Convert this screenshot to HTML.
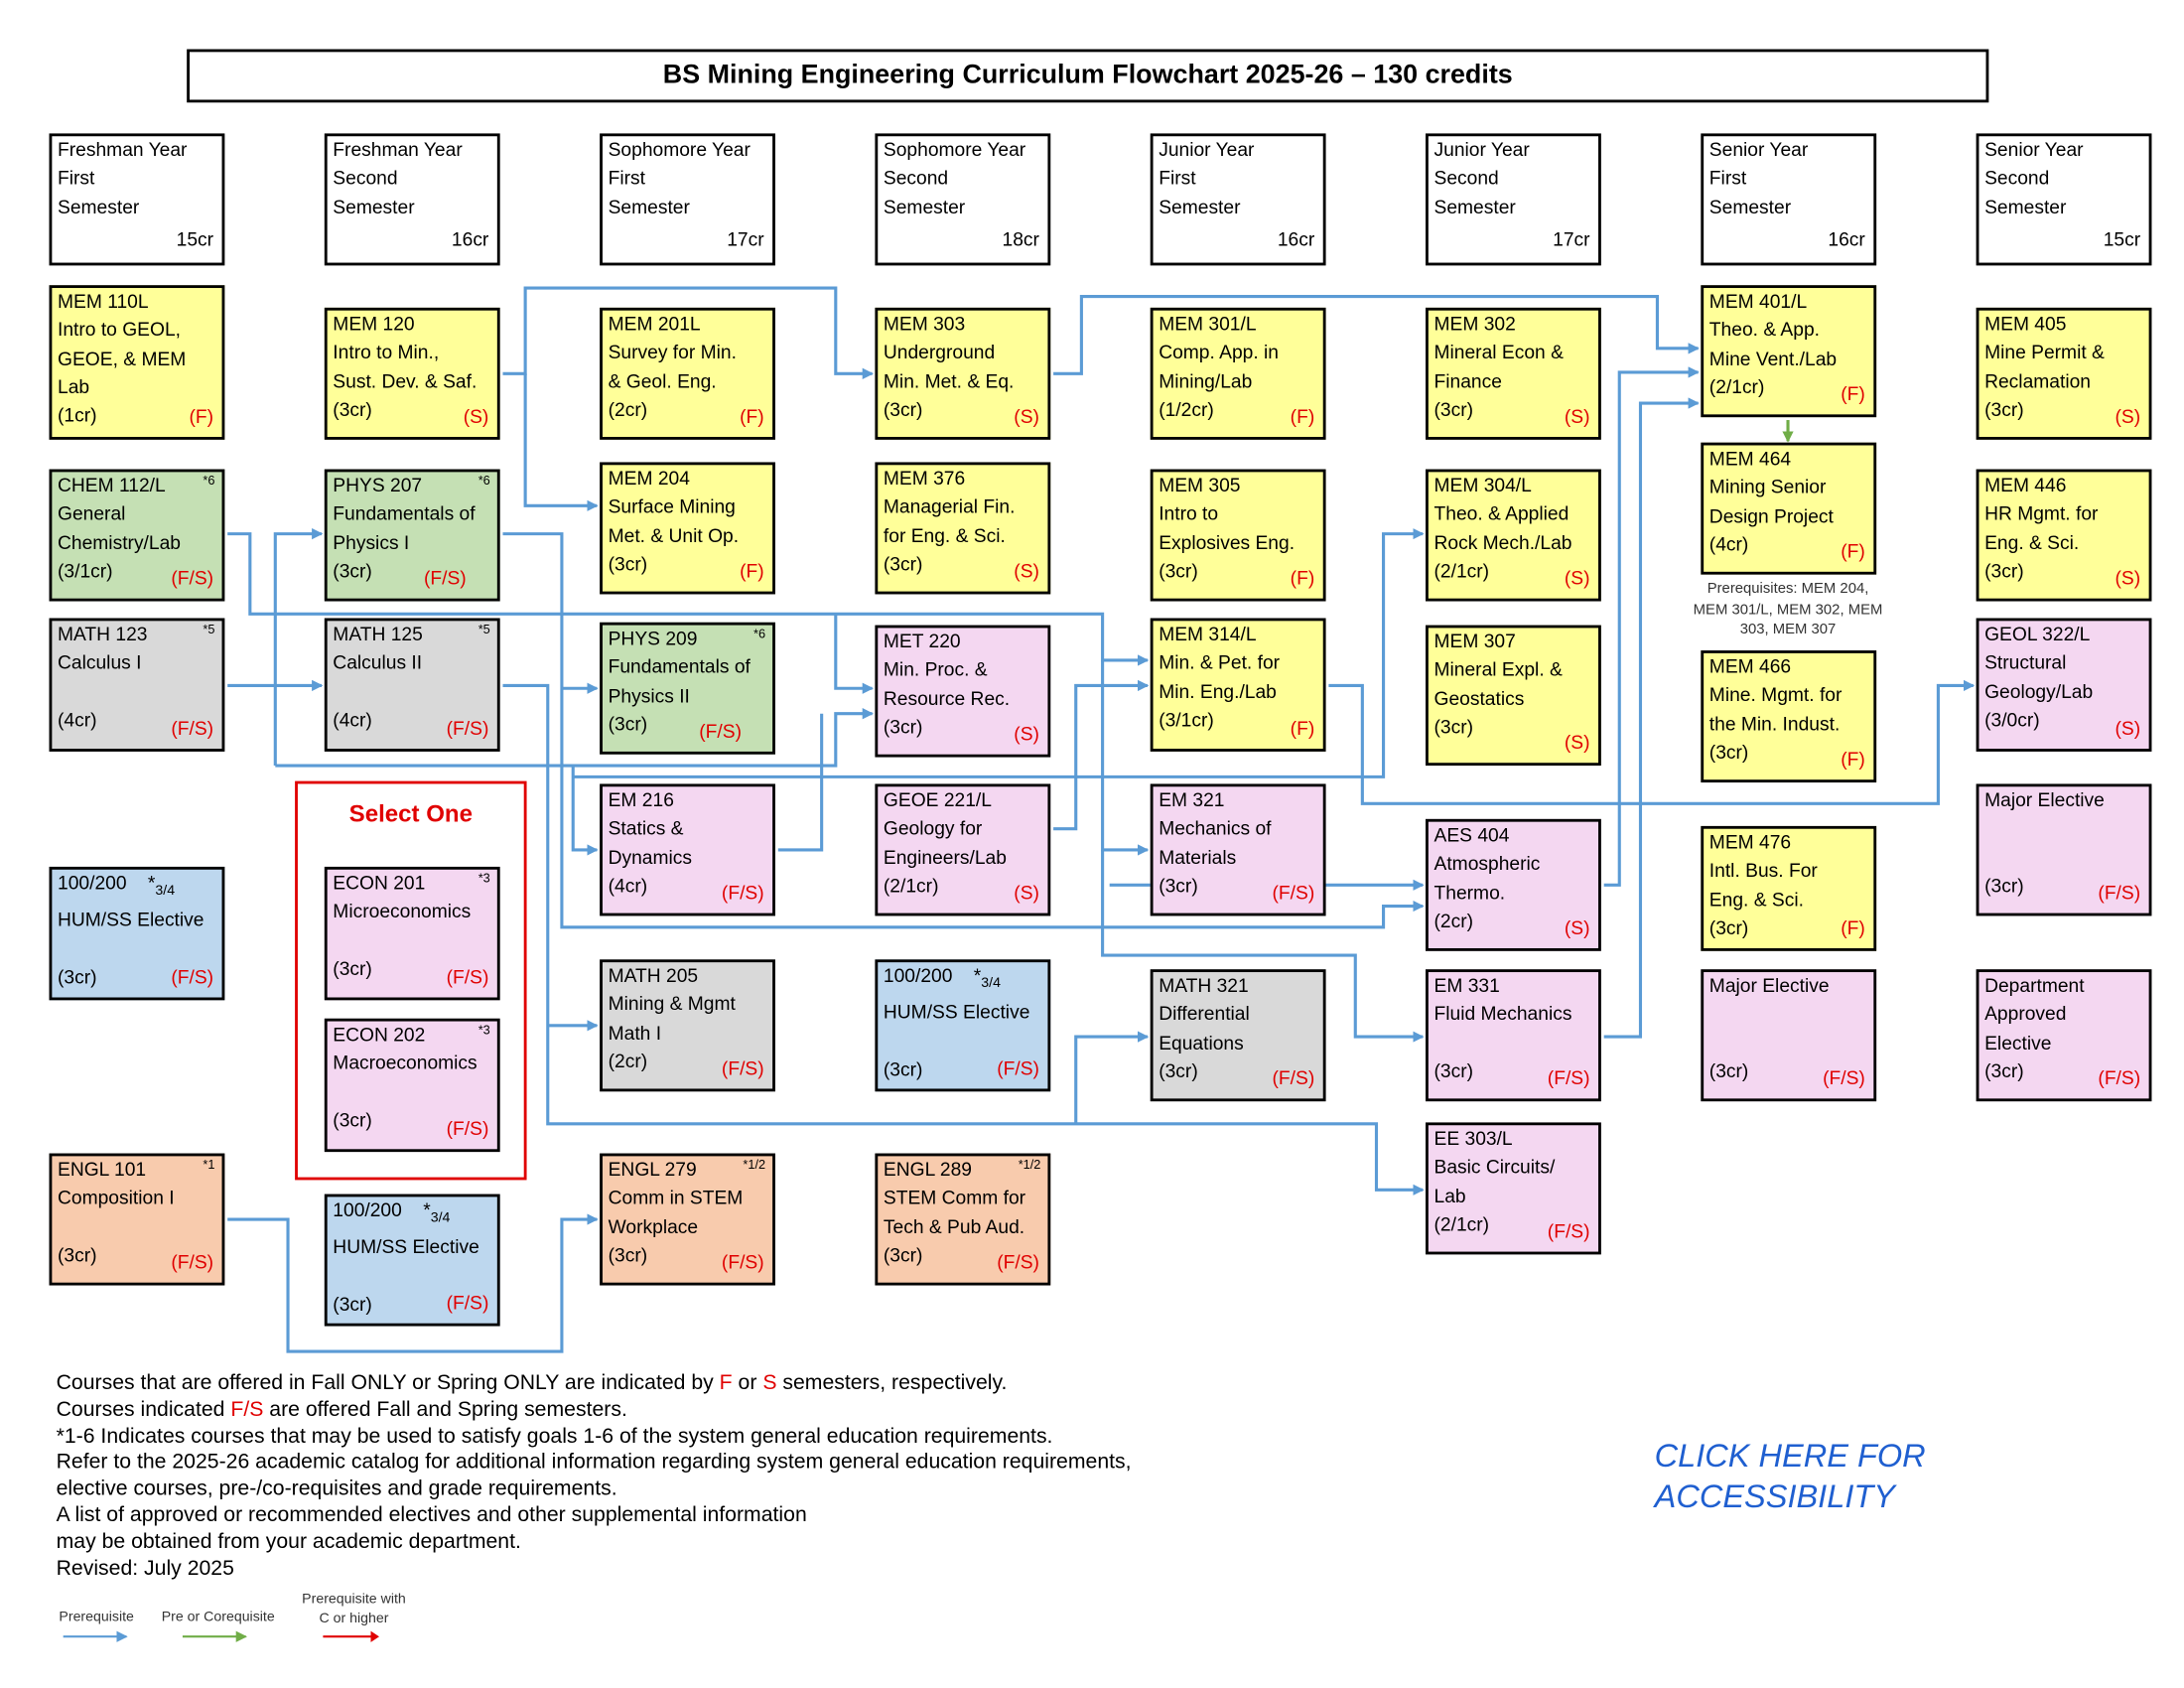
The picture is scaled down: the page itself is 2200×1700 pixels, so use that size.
<!DOCTYPE html>
<html><head><meta charset="utf-8"><style>
html,body{margin:0;padding:0;background:#fff;}
#wrap{width:2200px;height:1700px;overflow:hidden;position:relative;}
#c{position:absolute;left:0;top:0;width:1555px;height:1202px;transform:scale(1.41479);transform-origin:0 0;font-family:"Liberation Sans",sans-serif;}
.b{position:absolute;width:117px;border:2px solid #000;box-sizing:content-box;font-size:13.6px;line-height:20.3px;padding:0 0 0 4px;white-space:nowrap;}
.b .r{position:absolute;right:6px;bottom:4px;color:#e00000;}
.b .s{position:absolute;right:5px;top:1px;font-size:9px;line-height:10px;}
.y{background:#ffff99}.g{background:#c5e0b4}.gr{background:#d9d9d9}.bl{background:#bdd7ee}.p{background:#f4d7f1}.o{background:#f8cbad}
.h{background:#fff}
.h .cr{position:absolute;right:6px;bottom:6px;}
#title{position:absolute;left:133px;top:35px;width:1279px;height:34px;border:2px solid #000;text-align:center;font-weight:bold;font-size:19px;line-height:34px;}
#foot{position:absolute;left:40px;top:976px;font-size:15px;line-height:18.8px;}
.red{color:#e00000}
</style></head><body><div id="wrap"><div id="c">
<div id="title">BS Mining Engineering Curriculum Flowchart 2025-26 – 130 credits</div>

<div class="b h" style="left:35px;top:95px;height:90px;">Freshman Year<br>First<br>Semester<span class="cr">15cr</span></div>
<div class="b h" style="left:231px;top:95px;height:90px;">Freshman Year<br>Second<br>Semester<span class="cr">16cr</span></div>
<div class="b h" style="left:427px;top:95px;height:90px;">Sophomore Year<br>First<br>Semester<span class="cr">17cr</span></div>
<div class="b h" style="left:623px;top:95px;height:90px;">Sophomore Year<br>Second<br>Semester<span class="cr">18cr</span></div>
<div class="b h" style="left:819px;top:95px;height:90px;">Junior Year<br>First<br>Semester<span class="cr">16cr</span></div>
<div class="b h" style="left:1015px;top:95px;height:90px;">Junior Year<br>Second<br>Semester<span class="cr">17cr</span></div>
<div class="b h" style="left:1211px;top:95px;height:90px;">Senior Year<br>First<br>Semester<span class="cr">16cr</span></div>
<div class="b h" style="left:1407px;top:95px;height:90px;">Senior Year<br>Second<br>Semester<span class="cr">15cr</span></div>

<svg style="position:absolute;left:0;top:0" width="1555" height="1202">
<defs><marker id="a" markerWidth="8" markerHeight="8" refX="7" refY="4" orient="auto" markerUnits="userSpaceOnUse" viewBox="0 0 8 8"><path d="M0,0L8,4L0,8z" fill="#5b9bd5"/></marker>
<marker id="ag" markerWidth="8" markerHeight="8" refX="7" refY="4" orient="auto" markerUnits="userSpaceOnUse" viewBox="0 0 8 8"><path d="M0,0L8,4L0,8z" fill="#70ad47"/></marker></defs>
<g fill="none" stroke="#5b9bd5" stroke-width="2.2">
<path d="M358,266H374V205H595V266H621" marker-end="url(#a)"/>
<path d="M374,266V360H425" marker-end="url(#a)"/>
<path d="M750,266H770V211H1180V248H1209" marker-end="url(#a)"/>
<path d="M162,380H178V437H785V470H817" marker-end="url(#a)"/>
<path d="M595,437V490H621" marker-end="url(#a)"/>
<path d="M162,488H229" marker-end="url(#a)"/>
<path d="M196,545V380H229" marker-end="url(#a)"/>
<path d="M196,545H595V508H621" marker-end="url(#a)"/>
<path d="M358,380H400V660H985V645H1013" marker-end="url(#a)"/>
<path d="M400,490H425" marker-end="url(#a)"/>
<path d="M358,488H390V800H980V847H1013" marker-end="url(#a)"/>
<path d="M390,730H425" marker-end="url(#a)"/>
<path d="M766,800V738H817" marker-end="url(#a)"/>
<path d="M408,545V605H425" marker-end="url(#a)"/>
<path d="M554,605H585V508" />
<path d="M750,590H766V488H817" marker-end="url(#a)"/>
<path d="M785,470V605H817" marker-end="url(#a)"/>
<path d="M785,605V680H965V738H1013" marker-end="url(#a)"/>
<path d="M790,630H1013" marker-end="url(#a)"/>
<path d="M946,488H970V572H1380V488H1405" marker-end="url(#a)"/>
<path d="M408,553H985V380H1013" marker-end="url(#a)"/>
<path d="M1142,630H1153V265H1209" marker-end="url(#a)"/>
<path d="M1142,738H1168V287H1209" marker-end="url(#a)"/>
<path d="M162,868H205V962H400V868H425" marker-end="url(#a)"/>
</g>
<path d="M1273,299V314" stroke="#70ad47" stroke-width="2.2" marker-end="url(#ag)"/>
<g stroke-width="1.5">
<path d="M45,1165H90" stroke="#5b9bd5" marker-end="url(#a)"/>
<path d="M130,1165H175" stroke="#70ad47" marker-end="url(#ag)"/>
<path d="M230,1165H268" stroke="#e00000"/><path d="M264,1161L270,1165L264,1169z" fill="#e00000"/>
</g>
</svg>

<div class="b y" style="left:35px;top:203px;height:106px;">MEM 110L<br>Intro to GEOL,<br>GEOE, &amp; MEM<br>Lab<br>(1cr)<span class="r">(F)</span></div>
<div class="b g" style="left:35px;top:334px;height:90px;">CHEM 112/L<br>General<br>Chemistry/Lab<br>(3/1cr)<span class="r">(F/S)</span><span class="s">*6</span></div>
<div class="b gr" style="left:35px;top:440px;height:91px;">MATH 123<br>Calculus I<br><br>(4cr)<span class="r">(F/S)</span><span class="s">*5</span></div>
<div class="b bl" style="left:35px;top:617px;height:91px;">100/200 &nbsp;&nbsp;&nbsp;*<sub style="font-size:10px">3/4</sub><br>HUM/SS Elective<br><br>(3cr)<span class="r">(F/S)</span></div>
<div class="b o" style="left:35px;top:821px;height:90px;">ENGL 101<br>Composition I<br><br>(3cr)<span class="r">(F/S)</span><span class="s">*1</span></div>

<div class="b y" style="left:231px;top:219px;height:90px;">MEM 120<br>Intro to Min.,<br>Sust. Dev. &amp; Saf.<br>(3cr)<span class="r">(S)</span></div>
<div class="b g" style="left:231px;top:334px;height:90px;">PHYS 207<br>Fundamentals of<br>Physics I<br>(3cr)<span class="r" style="right:22px">(F/S)</span><span class="s">*6</span></div>
<div class="b gr" style="left:231px;top:440px;height:91px;">MATH 125<br>Calculus II<br><br>(4cr)<span class="r">(F/S)</span><span class="s">*5</span></div>
<div style="position:absolute;left:210px;top:556px;width:161px;height:280px;border:2px solid #e00000;"><div style="text-align:center;color:#e00000;font-weight:bold;font-size:17px;margin-top:12px;">Select One</div></div>
<div class="b p" style="left:231px;top:617px;height:91px;">ECON 201<br>Microeconomics<br><br>(3cr)<span class="r">(F/S)</span><span class="s">*3</span></div>
<div class="b p" style="left:231px;top:725px;height:91px;">ECON 202<br>Macroeconomics<br><br>(3cr)<span class="r">(F/S)</span><span class="s">*3</span></div>
<div class="b bl" style="left:231px;top:850px;height:90px;">100/200 &nbsp;&nbsp;&nbsp;*<sub style="font-size:10px">3/4</sub><br>HUM/SS Elective<br><br>(3cr)<span class="r">(F/S)</span></div>

<div class="b y" style="left:427px;top:219px;height:90px;">MEM 201L<br>Survey for Min.<br>&amp; Geol. Eng.<br>(2cr)<span class="r">(F)</span></div>
<div class="b y" style="left:427px;top:329px;height:90px;">MEM 204<br>Surface Mining<br>Met. &amp; Unit Op.<br>(3cr)<span class="r">(F)</span></div>
<div class="b g" style="left:427px;top:443px;height:90px;">PHYS 209<br>Fundamentals of<br>Physics II<br>(3cr)<span class="r" style="right:22px">(F/S)</span><span class="s">*6</span></div>
<div class="b p" style="left:427px;top:558px;height:90px;">EM 216<br>Statics &amp;<br>Dynamics<br>(4cr)<span class="r">(F/S)</span></div>
<div class="b gr" style="left:427px;top:683px;height:90px;">MATH 205<br>Mining &amp; Mgmt<br>Math I<br>(2cr)<span class="r">(F/S)</span></div>
<div class="b o" style="left:427px;top:821px;height:90px;">ENGL 279<br>Comm in STEM<br>Workplace<br>(3cr)<span class="r">(F/S)</span><span class="s">*1/2</span></div>

<div class="b y" style="left:623px;top:219px;height:90px;">MEM 303<br>Underground<br>Min. Met. &amp; Eq.<br>(3cr)<span class="r">(S)</span></div>
<div class="b y" style="left:623px;top:329px;height:90px;">MEM 376<br>Managerial Fin.<br>for Eng. &amp; Sci.<br>(3cr)<span class="r">(S)</span></div>
<div class="b p" style="left:623px;top:445px;height:90px;">MET 220<br>Min. Proc. &amp;<br>Resource Rec.<br>(3cr)<span class="r">(S)</span></div>
<div class="b p" style="left:623px;top:558px;height:90px;">GEOE 221/L<br>Geology for<br>Engineers/Lab<br>(2/1cr)<span class="r">(S)</span></div>
<div class="b bl" style="left:623px;top:683px;height:90px;">100/200 &nbsp;&nbsp;&nbsp;*<sub style="font-size:10px">3/4</sub><br>HUM/SS Elective<br><br>(3cr)<span class="r">(F/S)</span></div>
<div class="b o" style="left:623px;top:821px;height:90px;">ENGL 289<br>STEM Comm for<br>Tech &amp; Pub Aud.<br>(3cr)<span class="r">(F/S)</span><span class="s">*1/2</span></div>

<div class="b y" style="left:819px;top:219px;height:90px;">MEM 301/L<br>Comp. App. in<br>Mining/Lab<br>(1/2cr)<span class="r">(F)</span></div>
<div class="b y" style="left:819px;top:334px;height:90px;">MEM 305<br>Intro to<br>Explosives Eng.<br>(3cr)<span class="r">(F)</span></div>
<div class="b y" style="left:819px;top:440px;height:91px;">MEM 314/L<br>Min. &amp; Pet. for<br>Min. Eng./Lab<br>(3/1cr)<span class="r">(F)</span></div>
<div class="b p" style="left:819px;top:558px;height:90px;">EM 321<br>Mechanics of<br>Materials<br>(3cr)<span class="r">(F/S)</span></div>
<div class="b gr" style="left:819px;top:690px;height:90px;">MATH 321<br>Differential<br>Equations<br>(3cr)<span class="r">(F/S)</span></div>

<div class="b y" style="left:1015px;top:219px;height:90px;">MEM 302<br>Mineral Econ &amp;<br>Finance<br>(3cr)<span class="r">(S)</span></div>
<div class="b y" style="left:1015px;top:334px;height:90px;">MEM 304/L<br>Theo. &amp; Applied<br>Rock Mech./Lab<br>(2/1cr)<span class="r">(S)</span></div>
<div class="b y" style="left:1015px;top:445px;height:96px;">MEM 307<br>Mineral Expl. &amp;<br>Geostatics<br>(3cr)<span class="r">(S)</span></div>
<div class="b p" style="left:1015px;top:583px;height:90px;">AES 404<br>Atmospheric<br>Thermo.<br>(2cr)<span class="r">(S)</span></div>
<div class="b p" style="left:1015px;top:690px;height:90px;">EM 331<br>Fluid Mechanics<br><br>(3cr)<span class="r">(F/S)</span></div>
<div class="b p" style="left:1015px;top:799px;height:90px;">EE 303/L<br>Basic Circuits/<br>Lab<br>(2/1cr)<span class="r">(F/S)</span></div>

<div class="b y" style="left:1211px;top:203px;height:90px;">MEM 401/L<br>Theo. &amp; App.<br>Mine Vent./Lab<br>(2/1cr)<span class="r">(F)</span></div>
<div class="b y" style="left:1211px;top:315px;height:90px;">MEM 464<br>Mining Senior<br>Design Project<br>(4cr)<span class="r">(F)</span></div>
<div style="position:absolute;left:1193px;top:412px;width:160px;text-align:center;font-size:10.5px;line-height:14.5px;color:#333;">Prerequisites: MEM 204,<br>MEM 301/L, MEM 302, MEM<br>303, MEM 307</div>
<div class="b y" style="left:1211px;top:463px;height:90px;">MEM 466<br>Mine. Mgmt. for<br>the Min. Indust.<br>(3cr)<span class="r">(F)</span></div>
<div class="b y" style="left:1211px;top:588px;height:85px;">MEM 476<br>Intl. Bus. For<br>Eng. &amp; Sci.<br>(3cr)<span class="r">(F)</span></div>
<div class="b p" style="left:1211px;top:690px;height:90px;">Major Elective<br><br><br>(3cr)<span class="r">(F/S)</span></div>

<div class="b y" style="left:1407px;top:219px;height:90px;">MEM 405<br>Mine Permit &amp;<br>Reclamation<br>(3cr)<span class="r">(S)</span></div>
<div class="b y" style="left:1407px;top:334px;height:90px;">MEM 446<br>HR Mgmt. for<br>Eng. &amp; Sci.<br>(3cr)<span class="r">(S)</span></div>
<div class="b p" style="left:1407px;top:440px;height:91px;">GEOL 322/L<br>Structural<br>Geology/Lab<br>(3/0cr)<span class="r">(S)</span></div>
<div class="b p" style="left:1407px;top:558px;height:90px;">Major Elective<br><br><br>(3cr)<span class="r">(F/S)</span></div>
<div class="b p" style="left:1407px;top:690px;height:90px;">Department<br>Approved<br>Elective<br>(3cr)<span class="r">(F/S)</span></div>

<div id="foot">Courses that are offered in Fall ONLY or Spring ONLY are indicated by <span class="red">F</span> or <span class="red">S</span> semesters, respectively.<br>Courses indicated <span class="red">F/S</span> are offered Fall and Spring semesters.<br>*1-6 Indicates courses that may be used to satisfy goals 1-6 of the system general education requirements.<br>Refer to the 2025-26 academic catalog for additional information regarding system general education requirements,<br>elective courses, pre-/co-requisites and grade requirements.<br>A list of approved or recommended electives and other supplemental information<br>may be obtained from your academic department.<br>Revised: July 2025</div>
<div style="position:absolute;left:42px;top:1146px;font-size:10px;color:#333;">Prerequisite</div>
<div style="position:absolute;left:115px;top:1146px;font-size:10px;color:#333;">Pre or Corequisite</div>
<div style="position:absolute;left:215px;top:1132px;font-size:10px;line-height:14px;color:#333;text-align:center;">Prerequisite with<br>C or higher</div>
<div style="position:absolute;left:1178px;top:1022px;font-size:23px;line-height:29px;font-style:italic;color:#1f5fd0;">CLICK HERE FOR<br>ACCESSIBILITY</div>
</div></div></body></html>
